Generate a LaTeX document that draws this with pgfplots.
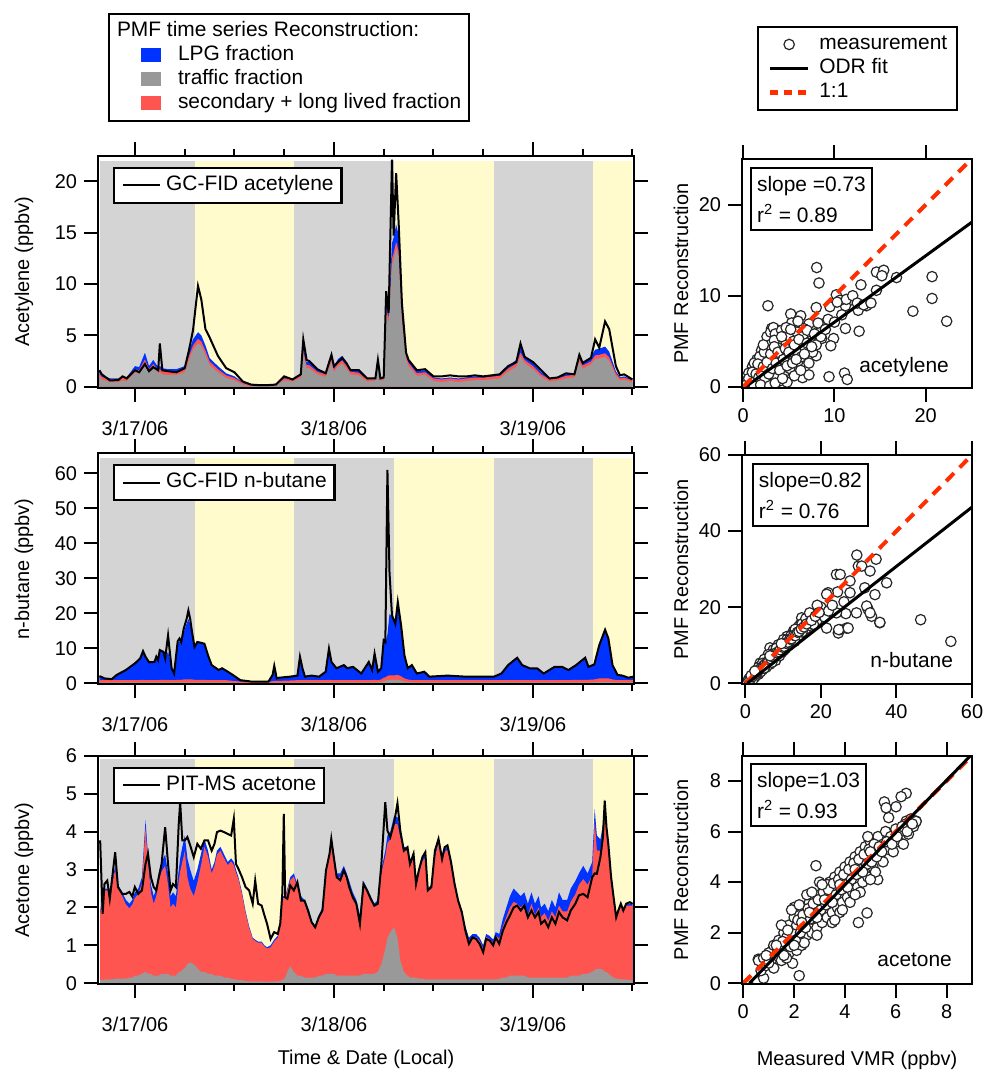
\documentclass[border=0pt]{standalone}
\usepackage{fontspec}
\setmainfont{Liberation Sans}
\usepackage{pgfplots}
\pgfplotsset{compat=1.18}
\usepackage{pgfplotstable}

\definecolor{bggray}{RGB}{212,212,212}
\definecolor{bgyellow}{RGB}{255,251,204}
\definecolor{trgray}{RGB}{153,153,153}
\definecolor{lpgblue}{RGB}{0,51,255}
\definecolor{secred}{RGB}{255,85,80}
\definecolor{oneone}{RGB}{255,45,0}

\newcommand{\lbl}{\fontsize{10.5}{12}\selectfont}
\newcommand{\tkl}{\fontsize{10}{12}\selectfont}

\pgfplotstableread{
t tr sec lpg meas
-4.3 1.05 0.25 0.20 1.6
-4.0 0.70 0.25 0.15 1.2
-3.0 0.45 0.25 0.10 0.6
-2.0 0.45 0.25 0.10 0.65
-1.5 0.62 0.25 0.13 1.0
-1.0 0.53 0.25 0.12 0.8
0.0 1.40 0.30 0.30 1.6
0.5 1.30 0.30 0.30 1.4
1.2 2.30 0.35 0.65 2.2
1.7 1.40 0.30 0.30 1.5
2.2 1.90 0.30 0.40 1.9
2.8 1.30 0.30 0.30 1.6
3.0 1.40 0.30 0.30 4.2
3.3 1.20 0.30 0.30 1.6
4.0 1.15 0.30 0.25 1.5
5.0 1.15 0.30 0.25 1.4
6.0 1.40 0.30 0.30 1.8
6.5 2.60 0.35 0.45 3.5
7.0 3.60 0.40 0.60 5.5
7.6 4.20 0.45 0.65 9.8
8.0 4.00 0.40 0.60 8.5
8.5 3.10 0.40 0.50 5.6
9.0 2.10 0.35 0.35 4.8
10.0 1.40 0.30 0.30 3.0
11.0 0.85 0.25 0.20 1.8
12.0 0.60 0.25 0.15 1.4
13.0 0.20 0.15 0.05 0.5
14.0 0.05 0.08 0.02 0.2
15.0 0.05 0.08 0.02 0.15
16.0 0.05 0.08 0.02 0.15
17.0 0.15 0.12 0.03 0.2
18.0 0.60 0.20 0.10 1.0
19.0 0.50 0.20 0.10 0.7
20.0 0.85 0.20 0.15 1.2
20.3 3.20 0.30 0.50 4.6
20.7 1.80 0.30 0.30 2.6
21.0 1.80 0.30 0.30 2.5
22.0 1.20 0.25 0.25 1.7
23.0 0.95 0.25 0.20 1.3
23.7 2.40 0.30 0.60 3.1
24.0 1.40 0.30 0.30 2.0
24.5 2.00 0.30 0.40 2.4
25.0 2.25 0.30 0.45 2.8
25.5 1.75 0.30 0.35 2.3
26.0 1.20 0.25 0.25 1.6
27.0 1.10 0.25 0.25 1.6
28.0 0.50 0.20 0.10 0.8
29.0 0.60 0.20 0.10 0.8
29.3 2.00 0.30 0.50 2.6
29.6 0.60 0.20 0.10 0.8
30.0 0.60 0.20 0.10 0.9
30.3 7.10 0.50 0.90 9.3
30.6 6.20 0.50 0.80 7.2
31.0 11.90 0.60 1.50 22.1
31.2 12.40 0.60 1.50 14.7
31.5 13.50 0.60 1.70 20.8
31.8 12.60 0.60 1.60 16.0
32.2 6.20 0.50 0.80 8.1
32.7 2.65 0.35 0.40 3.3
33.0 2.00 0.30 0.30 2.6
34.0 1.05 0.25 0.20 1.6
35.0 1.15 0.25 0.20 1.7
36.0 0.55 0.25 0.10 1.0
37.0 0.45 0.25 0.10 1.0
38.0 0.55 0.25 0.10 1.1
39.0 0.45 0.25 0.10 1.0
40.0 0.55 0.25 0.10 1.0
41.0 0.63 0.25 0.12 1.1
42.0 0.63 0.25 0.12 1.0
43.0 0.72 0.25 0.13 1.1
44.0 0.80 0.25 0.15 1.2
45.0 1.45 0.30 0.25 2.0
46.0 1.95 0.30 0.35 2.4
46.5 2.95 0.35 0.50 4.2
47.0 2.30 0.30 0.40 2.9
48.0 1.70 0.30 0.30 2.4
49.0 0.95 0.25 0.20 1.6
50.0 0.50 0.20 0.10 0.8
51.0 0.60 0.20 0.10 0.9
52.0 0.80 0.25 0.15 1.3
53.0 0.90 0.25 0.15 1.2
53.6 2.45 0.30 0.45 3.1
54.0 1.75 0.30 0.35 2.3
55.0 2.15 0.30 0.45 2.8
55.5 2.70 0.35 0.55 4.6
56.0 2.75 0.35 0.60 3.8
56.7 2.90 0.35 0.65 6.35
57.2 2.50 0.35 0.55 5.6
58.0 1.05 0.25 0.20 2.0
58.5 0.60 0.20 0.10 1.1
59.0 0.68 0.20 0.12 1.2
60.0 0.42 0.20 0.08 0.7
}\tabA

\pgfplotstableread{
t tr sec lpg meas
-4.3 0.3 0.6 1.1 2.0
-4.1 0.3 0.6 1.0 1.9
-3.7 0.3 0.6 0.5 1.4
-2.8 0.3 0.6 0.3 1.2
-2.2 0.3 0.6 1.5 2.4
-1.1 0.3 0.6 2.9 3.8
0.0 0.3 0.6 5.0 5.7
0.63 0.3 0.6 6.3 7.1
0.97 0.3 0.7 8.4 9.2
1.27 0.3 0.6 6.9 7.6
1.7 0.3 0.6 5.4 6.0
2.35 0.3 0.6 5.5 6.1
2.57 0.3 0.6 6.9 7.6
2.78 0.3 0.6 5.9 6.6
2.99 0.3 0.7 8.6 9.5
3.43 0.3 0.7 8.0 9.0
3.64 0.3 0.6 6.5 7.1
3.99 0.3 0.7 8.0 13.7
4.16 0.3 0.6 6.6 9.9
4.42 0.3 0.6 3.6 4.3
4.72 0.3 0.6 2.1 2.8
5.15 0.3 0.7 10.5 12.0
5.37 0.3 0.7 11.0 12.8
5.58 0.3 0.7 10.5 11.8
5.88 0.3 0.8 13.4 15.6
6.23 0.3 0.8 15.9 18.4
6.44 0.3 0.8 17.3 20.8
6.66 0.3 0.8 15.9 18.4
6.88 0.3 0.8 12.9 14.7
7.18 0.3 0.7 9.5 10.4
7.52 0.3 0.7 10.8 11.8
7.95 0.3 0.7 10.6 11.6
8.38 0.3 0.7 10.0 11.3
8.81 0.3 0.6 6.9 8.0
9.25 0.3 0.6 4.1 5.2
10.1 0.3 0.6 2.7 3.8
10.5 0.3 0.6 3.2 4.3
11.0 0.3 0.6 2.5 3.6
11.8 0.2 0.5 1.5 2.4
12.7 0.1 0.4 0.4 0.9
14.0 0.1 0.3 0.1 0.5
16.1 0.1 0.3 0.1 0.5
16.6 0.2 0.4 1.8 2.4
16.8 0.2 0.5 4.3 5.0
17.1 0.2 0.5 0.7 1.4
17.4 0.2 0.5 0.9 1.6
18.7 0.2 0.6 1.1 1.9
19.6 0.3 0.6 1.3 2.2
19.9 0.3 0.6 6.7 7.6
20.2 0.3 0.6 3.4 4.3
20.5 0.3 0.6 1.0 1.9
21.3 0.3 0.6 1.3 2.2
22.2 0.3 0.6 1.0 1.9
23.0 0.3 0.6 2.4 3.3
23.4 0.3 0.7 8.9 9.9
23.7 0.3 0.6 5.2 6.1
24.3 0.3 0.6 3.4 4.3
25.2 0.3 0.6 4.5 5.2
25.6 0.3 0.6 3.6 4.3
26.3 0.3 0.6 4.0 4.7
27.3 0.3 0.6 2.0 2.8
28.2 0.3 0.6 5.2 6.1
28.6 0.3 0.6 2.9 3.8
28.9 0.3 0.7 7.5 8.5
29.3 0.3 0.6 2.4 3.3
29.7 0.4 0.7 3.2 4.3
30.0 0.6 1.0 9.9 12.3
30.2 0.7 1.0 9.8 11.8
30.45 0.9 1.2 11.9 61.0
30.7 1.0 1.3 17.5 31.7
31.0 1.0 1.3 16.7 19.4
31.4 1.0 1.3 14.5 17.0
31.7 1.0 1.4 20.1 23.2
32.1 0.8 1.2 14.0 16.5
32.5 0.5 0.9 6.8 8.0
32.9 0.4 0.7 3.5 4.3
33.4 0.3 0.6 4.3 5.2
34.0 0.3 0.6 1.9 2.8
34.9 0.3 0.6 2.4 3.3
35.5 0.3 0.6 1.0 1.9
37.7 0.3 0.6 1.3 2.2
39.9 0.3 0.6 1.0 1.9
42.0 0.3 0.6 1.0 1.9
43.3 0.3 0.6 1.0 1.9
44.2 0.3 0.6 1.9 2.8
45.0 0.3 0.6 4.3 5.2
46.1 0.3 0.6 6.4 7.3
46.7 0.3 0.6 4.3 5.2
47.6 0.3 0.6 3.4 4.3
48.5 0.3 0.6 3.4 4.3
49.3 0.3 0.6 1.9 2.8
50.6 0.3 0.6 3.8 4.7
51.5 0.3 0.6 3.8 4.7
52.3 0.3 0.6 2.9 3.8
53.2 0.3 0.7 4.2 5.2
54.3 0.3 0.7 6.3 7.3
54.7 0.3 0.7 3.7 4.7
55.4 0.3 0.8 4.3 5.4
56.0 0.4 1.0 9.5 10.9
56.7 0.4 1.0 13.6 15.3
57.1 0.4 1.0 11.4 12.8
57.6 0.3 0.8 4.1 5.2
58.2 0.3 0.6 1.5 2.4
58.8 0.3 0.6 1.3 2.2
59.5 0.3 0.6 0.7 1.6
60.1 0.3 0.6 1.0 1.9
}\tabB

\pgfplotstableread{
t tr sec lpg meas
-4.2 0.08 1.77 0.05 3.77
-3.9 0.08 2.17 0.05 1.83
-3.68 0.10 2.35 0.05 2.62
-3.34 0.10 2.35 0.05 2.71
-3.04 0.10 2.25 0.05 2.23
-2.74 0.10 2.52 0.08 2.80
-2.39 0.12 2.88 0.10 3.46
-2.05 0.12 2.38 0.10 2.54
-1.53 0.12 2.18 0.10 2.36
-1.1 0.12 1.96 0.12 2.36
-0.67 0.15 1.83 0.12 2.41
-0.32 0.15 1.93 0.12 2.29
-0.02 0.20 2.05 0.15 2.54
0.41 0.20 2.15 0.15 2.36
0.84 0.25 2.40 0.15 2.45
1.27 0.30 3.80 0.20 3.15
1.57 0.25 2.95 0.20 3.42
1.92 0.25 2.15 0.20 2.80
2.26 0.20 1.90 0.20 2.54
2.57 0.20 2.10 0.20 2.45
2.87 0.20 2.50 0.20 2.80
3.21 0.25 2.70 0.25 3.15
3.64 0.25 2.85 0.30 4.12
3.99 0.25 2.35 0.30 3.15
4.29 0.20 1.80 0.30 2.45
4.59 0.20 1.90 0.30 2.62
4.94 0.20 1.80 0.30 2.54
5.28 0.30 2.40 0.30 4.21
5.45 0.30 2.65 0.35 4.78
5.71 0.35 2.85 0.40 3.77
6.01 0.40 3.10 0.40 3.77
6.32 0.50 2.30 0.50 3.86
6.66 0.55 1.95 0.50 3.64
7.09 0.50 1.80 0.40 3.33
7.52 0.40 2.25 0.35 3.68
7.95 0.30 2.80 0.30 3.55
8.38 0.30 3.30 0.20 3.77
8.81 0.25 3.10 0.15 3.77
9.25 0.25 2.65 0.10 3.50
9.59 0.20 2.90 0.10 3.68
9.89 0.20 3.20 0.10 3.99
10.3 0.20 3.30 0.10 4.03
10.75 0.15 3.15 0.10 3.99
11.2 0.15 2.97 0.08 3.94
11.6 0.12 3.10 0.08 3.90
11.92 0.10 3.02 0.08 4.34
12.18 0.10 2.82 0.08 3.15
12.48 0.08 2.67 0.05 3.02
12.91 0.08 2.27 0.05 2.80
13.34 0.06 1.79 0.05 2.54
13.77 0.05 1.41 0.04 2.45
14.2 0.05 1.12 0.03 2.10
14.5 0.05 1.07 0.03 2.71
14.85 0.05 1.02 0.03 2.10
15.28 0.05 1.02 0.03 2.05
15.62 0.04 0.93 0.03 1.79
15.93 0.04 0.88 0.03 1.57
16.36 0.04 0.91 0.05 1.17
16.79 0.05 1.05 0.05 1.35
17.22 0.05 1.15 0.05 1.30
17.52 0.06 1.49 0.05 1.57
17.78 0.10 2.15 0.05 2.40
17.95 0.10 2.15 0.05 4.47
18.12 0.15 2.10 0.05 2.27
18.38 0.30 2.15 0.05 2.23
18.73 0.45 2.27 0.08 2.58
19.16 0.30 2.52 0.08 2.45
19.59 0.20 2.32 0.08 2.67
20.02 0.20 2.02 0.08 2.18
20.45 0.15 1.97 0.08 2.18
20.88 0.15 1.67 0.08 1.92
21.31 0.15 1.42 0.08 1.61
21.74 0.15 1.27 0.08 1.48
22.17 0.20 1.52 0.08 1.74
22.61 0.20 1.72 0.08 1.92
23.04 0.25 2.65 0.10 2.98
23.47 0.25 3.15 0.10 3.42
23.68 0.25 3.55 0.10 3.81
23.98 0.25 3.05 0.10 3.33
24.33 0.20 2.60 0.10 2.80
24.76 0.20 2.60 0.10 2.72
25.19 0.20 2.80 0.10 2.98
25.54 0.20 2.60 0.10 2.80
25.84 0.20 2.40 0.10 2.54
26.27 0.20 2.10 0.10 2.27
26.7 0.20 1.90 0.10 2.10
27.13 0.20 1.50 0.10 1.57
27.56 0.25 2.35 0.10 2.62
28.0 0.25 2.15 0.10 2.45
28.43 0.25 1.95 0.10 2.23
28.86 0.25 1.75 0.10 2.05
29.29 0.30 1.80 0.10 2.10
29.72 0.50 2.40 0.10 3.15
30.19 0.90 2.45 0.15 4.78
30.45 1.20 2.50 0.20 4.03
30.8 1.35 2.45 0.20 3.86
31.23 1.48 2.72 0.20 4.21
31.66 1.20 3.00 0.20 4.75
32.0 0.60 3.25 0.15 4.03
32.43 0.30 3.20 0.10 3.50
32.87 0.20 3.30 0.10 3.59
33.17 0.15 2.95 0.10 3.15
33.6 0.15 3.15 0.10 3.42
33.9 0.15 2.47 0.08 2.62
34.24 0.12 2.80 0.08 2.98
34.67 0.12 3.10 0.08 3.33
35.02 0.10 3.22 0.08 3.46
35.32 0.10 2.32 0.08 2.45
35.75 0.10 2.42 0.08 2.54
36.18 0.10 3.22 0.08 3.50
36.61 0.10 3.62 0.08 3.81
37.04 0.10 3.12 0.08 3.28
37.35 0.10 3.37 0.08 3.59
37.69 0.10 3.42 0.08 3.64
38.12 0.10 3.02 0.08 3.20
38.55 0.10 2.52 0.08 2.62
38.98 0.10 2.02 0.08 2.18
39.42 0.10 1.72 0.08 1.88
39.85 0.10 1.32 0.08 1.39
40.28 0.10 1.02 0.08 1.04
40.71 0.10 1.12 0.08 1.21
41.14 0.10 1.12 0.08 1.17
41.57 0.10 1.02 0.08 1.04
42.0 0.10 0.82 0.08 0.82
42.35 0.10 1.12 0.08 1.17
42.78 0.10 1.07 0.08 1.13
43.21 0.10 0.97 0.08 1.00
43.51 0.10 1.15 0.10 1.21
43.94 0.12 1.06 0.12 1.04
44.37 0.15 1.35 0.20 1.39
44.8 0.15 1.60 0.25 1.61
45.23 0.20 1.80 0.30 1.79
45.67 0.20 1.95 0.35 2.00
46.1 0.20 1.90 0.30 2.05
46.53 0.20 1.80 0.30 1.92
46.96 0.20 1.90 0.30 2.05
47.39 0.15 1.65 0.30 1.74
47.82 0.15 1.95 0.30 1.92
48.25 0.15 1.65 0.30 1.74
48.68 0.15 1.85 0.30 1.88
48.98 0.15 1.60 0.25 1.57
49.42 0.15 1.70 0.25 1.66
49.85 0.15 1.50 0.25 1.48
50.28 0.15 1.75 0.30 1.74
50.71 0.15 1.60 0.25 1.57
51.14 0.15 1.90 0.35 1.88
51.57 0.15 1.75 0.30 1.74
52.13 0.15 1.75 0.30 1.66
52.56 0.20 1.95 0.35 1.92
53.12 0.20 2.15 0.35 2.10
53.55 0.20 2.40 0.30 2.32
54.07 0.25 2.50 0.35 2.36
54.59 0.25 2.35 0.30 2.27
55.15 0.30 2.55 0.35 2.80
55.45 0.35 3.95 0.30 2.90
55.71 0.38 3.12 0.40 2.89
56.14 0.38 3.12 0.30 3.33
56.44 0.35 3.65 0.20 3.86
56.66 0.30 4.45 0.10 4.82
56.87 0.30 3.80 0.10 4.12
57.09 0.25 3.30 0.05 3.68
57.43 0.20 2.55 0.05 2.80
57.73 0.15 2.10 0.05 2.27
58.04 0.12 1.63 0.05 1.74
58.3 0.12 1.78 0.05 1.92
58.6 0.10 1.95 0.05 2.10
58.9 0.10 1.80 0.05 1.92
59.25 0.10 1.95 0.05 2.10
59.68 0.08 1.97 0.05 2.14
60.02 0.08 1.97 0.05 2.10
}\tabC

\pgfplotsset{
  base/.style={
    scale only axis, axis on top, tick align=outside,
    major tick length=7bp, minor tick length=3.5bp,
    axis line style={line width=1bp},
    every tick/.style={black, line width=1bp},
    tick label style={font=\tkl},
    label style={font=\lbl},
    /pgf/number format/assume math mode=true,
    clip marker paths=true,
  },
  leftp/.style={
    base, width=268bp,
    xmin=-4.46, xmax=60.19,
    xtick={0,24,48}, xticklabels={3/17/06,3/18/06,3/19/06},
    minor xtick={6,12,18,30,36,42,54,60},
    xtick pos=both, ytick pos=both,
    xticklabel style={yshift=-6bp},
    every axis y label/.style={at={([xshift=-37bp]rel axis cs:0,0.5)}, rotate=90, anchor=center},
    legend style={at={(0.028,0.953)}, anchor=north west, draw=black, line width=1.2bp, fill=white,
      inner xsep=4bp, inner ysep=3.25bp, font=\lbl,
      nodes={inner sep=0pt, text height=8bp, text depth=3bp}, column sep=2.5bp},
  },
  rightp/.style={
    base, width=115bp,
    xtick pos=both, ytick pos=left,
    every axis y label/.style={at={([xshift=-30.5bp]rel axis cs:0,0.5)}, rotate=90, anchor=center},
  },
  measleg/.style={legend image code/.code={\draw[black, line width=1bp] (0bp,0bp) -- (18.5bp,0bp);}},
  scat/.style={only marks, mark=*, mark size=2.6bp, mark options={draw=black!85, fill=white, line width=0.6bp}},
  sqleg/.style={legend image code/.code={\path[draw=none, fill=none] (0bp,0bp) -- (22bp,0bp); \fill[#1, draw=none] (12bp,-3.5bp) rectangle (22bp,3.5bp);}},
}

\begin{document}
\begin{tikzpicture}
\useasboundingbox (0,0) rectangle (492.5bp,536.5bp);

% ---------- PMF legend (top left) ----------
\begin{axis}[hide axis, scale only axis, width=10bp, height=10bp,
  at={(54bp,520bp)}, anchor=south west, xmin=0, xmax=1, ymin=0, ymax=1,
  legend cell align=left,
  legend style={at={(0,1)}, anchor=north west, draw=black, line width=1bp, fill=white,
    inner xsep=4bp, inner ysep=3.25bp, font=\lbl,
    nodes={inner sep=0pt, text height=8bp, text depth=3bp}, column sep=8.5bp, row sep=1bp}]
\addlegendimage{empty legend}
\addlegendentry{\hspace*{-30.5bp}PMF time series Reconstruction:}
\addlegendimage{draw=none, legend image code/.code={\path[draw=none] (0bp,0bp) -- (22bp,0bp); \fill[lpgblue] (12bp,-3.5bp) rectangle (22bp,3.5bp);}}
\addlegendentry{LPG fraction}
\addlegendimage{draw=none, legend image code/.code={\path[draw=none] (0bp,0bp) -- (22bp,0bp); \fill[trgray] (12bp,-3.5bp) rectangle (22bp,3.5bp);}}
\addlegendentry{traffic fraction}
\addlegendimage{draw=none, legend image code/.code={\path[draw=none] (0bp,0bp) -- (22bp,0bp); \fill[secred] (12bp,-3.5bp) rectangle (22bp,3.5bp);}}
\addlegendentry{secondary + long lived fraction}
\end{axis}

% ---------- Left panel 1: acetylene ----------
\begin{axis}[leftp, at={(49bp,342.5bp)}, anchor=south west, height=116.2bp,
  ymin=-0.13, ymax=22.5, ytick={0,5,10,15,20}, ylabel={Acetylene (ppbv)}]
\fill[bggray] (axis cs:-4.2,-0.13) rectangle (axis cs:60.0,22.0);
\fill[bgyellow] (axis cs:7.2,-0.13) rectangle (axis cs:19.2,22.0);
\fill[bgyellow] (axis cs:31.3,-0.13) rectangle (axis cs:43.3,22.0);
\fill[bgyellow] (axis cs:55.3,-0.13) rectangle (axis cs:60.0,22.0);
\addplot[forget plot, draw=none, fill=lpgblue] table[x=t, y expr=\thisrow{tr}+\thisrow{sec}+\thisrow{lpg}]{\tabA} \closedcycle;
\addplot[forget plot, draw=none, fill=secred] table[x=t, y expr=\thisrow{tr}+\thisrow{sec}]{\tabA} \closedcycle;
\addplot[forget plot, draw=none, fill=trgray] table[x=t, y=tr]{\tabA} \closedcycle;
\addplot[black, line width=1bp, measleg] table[x=t, y=meas]{\tabA};
\addlegendentry{GC-FID acetylene}
\end{axis}

% ---------- Left panel 2: n-butane ----------
\begin{axis}[leftp, at={(49bp,194.25bp)}, anchor=south west, height=115.75bp,
  ymin=-0.34, ymax=65.8, ytick={0,10,20,30,40,50,60}, ylabel={n-butane (ppbv)}]
\fill[bggray] (axis cs:-4.2,-0.34) rectangle (axis cs:60.0,64.3);
\fill[bgyellow] (axis cs:7.2,-0.34) rectangle (axis cs:19.2,64.3);
\fill[bgyellow] (axis cs:31.3,-0.34) rectangle (axis cs:43.3,64.3);
\fill[bgyellow] (axis cs:55.3,-0.34) rectangle (axis cs:60.0,64.3);
\addplot[forget plot, draw=none, fill=lpgblue] table[x=t, y expr=\thisrow{tr}+\thisrow{sec}+\thisrow{lpg}]{\tabB} \closedcycle;
\addplot[forget plot, draw=none, fill=secred] table[x=t, y expr=\thisrow{tr}+\thisrow{sec}]{\tabB} \closedcycle;
\addplot[forget plot, draw=none, fill=trgray] table[x=t, y=tr]{\tabB} \closedcycle;
\addplot[black, line width=1bp, measleg] table[x=t, y=meas]{\tabB};
\addlegendentry{GC-FID n-butane}
\end{axis}

% ---------- Left panel 3: acetone ----------
\begin{axis}[leftp, at={(49bp,44.5bp)}, anchor=south west, height=114bp,
  ymin=-0.02, ymax=6, ytick={0,1,2,3,4,5,6}, ylabel={Acetone (ppbv)},
  xlabel={Time \& Date (Local)},
  every axis x label/.style={at={([yshift=-40.25bp]rel axis cs:0.5,0)}, anchor=base}]
\fill[bggray] (axis cs:-4.2,-0.02) rectangle (axis cs:60.0,5.93);
\fill[bgyellow] (axis cs:7.2,-0.02) rectangle (axis cs:19.2,5.93);
\fill[bgyellow] (axis cs:31.3,-0.02) rectangle (axis cs:43.3,5.93);
\fill[bgyellow] (axis cs:55.3,-0.02) rectangle (axis cs:60.0,5.93);
\addplot[forget plot, draw=none, fill=lpgblue] table[x=t, y expr=\thisrow{tr}+\thisrow{sec}+\thisrow{lpg}]{\tabC} \closedcycle;
\addplot[forget plot, draw=none, fill=secred] table[x=t, y expr=\thisrow{tr}+\thisrow{sec}]{\tabC} \closedcycle;
\addplot[forget plot, draw=none, fill=trgray] table[x=t, y=tr]{\tabC} \closedcycle;
\addplot[black, line width=1bp, measleg] table[x=t, y=meas]{\tabC};
\addlegendentry{PIT-MS acetone}
\end{axis}

% ---------- Right panel 1: acetylene scatter ----------
\begin{axis}[rightp, at={(371bp,342.5bp)}, anchor=south west, height=114.35bp,
  xmin=-0.14, xmax=25.08, ymin=-0.14, ymax=25, xtick={0,10,20}, ytick={0,10,20},
  ylabel={PMF Reconstruction},
  legend style={at={(0.065,1.583)}, anchor=north west, draw=black, line width=1bp, fill=white,
    inner xsep=5bp, inner ysep=3.25bp, font=\lbl,
    nodes={inner sep=0pt, text height=8bp, text depth=3bp}, column sep=4.5bp, row sep=1bp},
  legend cell align=left]
\addplot[scat, legend image code/.code={\path[draw=none] (0bp,0bp) -- (19bp,0bp); \draw[black!85, fill=white, line width=0.6bp] (9.5bp,0bp) circle[radius=2.6bp];}] coordinates {
(8.05,13.1) (8.3,11.4) (14.6,12.6) (15.4,12.8) (15.2,12.2) (20.7,12.1) (20.7,9.7) (18.6,8.3)
(22.3,7.2) (2.7,8.9) (5.2,8.0) (6.3,7.8) (8.0,8.7) (10.2,10.1) (12.9,11.2) (11.7,9.5)
(11.2,8.9) (12.6,8.4) (13.5,8.9) (14.6,10.6) (16.8,12.0) (11.2,6.4) (12.7,6.1) (9.9,5.3)
(8.0,3.4) (6.5,1.0) (7.2,1.3) (9.4,1.1) (11.1,1.5) (11.4,0.8) (8.6,5.3) (8.4,6.0)
(9.5,8.8) (10.6,9.5) (8.8,6.9) (7.2,6.9) (6.6,6.4) (5.5,5.8) (4.4,6.0) (3.1,6.4) (3.8,6.2)
(0.2,0.3) (0.4,0.2) (0.5,0.6) (0.7,0.4) (0.8,1.0) (1.0,0.5) (1.1,1.3) (1.2,0.8) (1.3,1.8)
(1.5,1.1) (1.6,0.4) (1.7,2.2) (1.8,1.5) (1.9,0.9) (2.0,2.6) (2.1,1.9) (2.2,0.3) (2.3,1.2)
(2.4,3.0) (2.5,2.2) (2.6,1.6) (2.7,0.8) (2.8,3.4) (2.9,2.5) (3.0,1.9) (3.0,0.3) (3.1,4.2)
(3.2,3.0) (3.3,1.3) (3.4,2.4) (3.5,3.7) (3.6,4.9) (3.7,1.8) (3.8,2.9) (3.9,0.6) (4.0,3.4)
(4.1,4.4) (4.2,2.2) (4.3,5.2) (4.4,1.4) (4.5,3.9) (4.6,2.8) (4.7,4.8) (4.8,0.5) (4.9,3.3)
(5.0,5.6) (5.1,2.0) (5.2,4.3) (5.4,3.6) (5.5,5.0) (5.6,1.2) (5.8,4.0) (5.9,6.0) (6.0,2.8)
(6.2,4.8) (6.4,3.3) (6.5,5.5) (6.8,4.2) (7.0,6.2) (7.2,2.6) (7.4,5.0) (7.6,3.8) (7.8,5.8)
(8.0,4.6) (8.2,7.0) (8.5,5.5) (9.0,6.3) (9.3,7.4) (9.6,4.5) (10.0,7.1) (10.3,9.3) (10.8,7.9)
(11.3,9.6) (12.0,10.0) (12.5,9.2) (13.2,9.0) (14.0,9.2) (2.6,5.5) (3.0,6.0) (3.3,6.5)
(3.5,5.8) (4.2,6.2) (5.3,7.0) (6.0,7.2) (4.7,6.5) (2.0,4.0) (1.5,3.0) (1.0,2.2) (0.6,1.5)
(1.2,2.6) (1.8,3.3) (2.3,3.8) (2.9,4.6) (3.4,5.1) (2.2,4.6) (1.4,0.2) (2.5,0.6) (3.6,1.0)
(0.3,0.6) (0.5,0.1) (0.6,0.9) (0.9,0.2) (1.0,1.6) (1.3,0.6) (1.4,1.4) (1.6,2.5) (1.7,1.0)
(2.0,1.4) (2.2,2.2) (2.4,0.9) (2.6,2.7) (2.8,1.4) (3.0,3.6) (3.2,2.0) (3.4,4.4) (3.6,2.6)
(3.8,3.8) (4.0,1.8) (4.2,5.5) (4.4,3.0) (4.6,4.2) (4.8,2.3) (5.0,3.8) (5.2,6.3) (5.4,2.6)
(5.6,4.6) (5.8,3.0) (6.1,5.2) (6.3,1.8) (6.7,3.6) (7.0,4.8) (7.5,4.4) (1.1,0.1) (1.9,0.2)
(2.9,0.1) (3.5,0.4) (4.3,0.9) (0.1,0.1)
};
\addlegendentry{measurement}
\addplot[black, line width=1.5bp, legend image code/.code={\draw[black, line width=1.5bp] (0bp,0bp) -- (19bp,0bp);}] coordinates {(0.27,0) (25.08,18.1)};
\addlegendentry{ODR fit}
\addplot[oneone, line width=2bp, dash pattern=on 5.5bp off 4bp, legend image code/.code={\draw[oneone, line width=2.2bp, dash pattern=on 4bp off 3bp] (0bp,0bp) -- (19bp,0bp);}] coordinates {(0,0) (25.08,25.08)};
\addlegendentry{1:1}
\node[draw=black, line width=1bp, fill=white, align=left, anchor=north west, inner xsep=3bp, inner ysep=4bp, font=\fontsize{10.5}{15.5}\selectfont] at (rel axis cs:0.035,0.966) {slope =0.73\\r\textsuperscript{2} = 0.89};
\node[anchor=base east, font=\lbl] at (rel axis cs:0.93,0.066) {acetylene};
\end{axis}

% ---------- Right panel 2: n-butane scatter ----------
\begin{axis}[rightp, at={(371bp,194.5bp)}, anchor=south west, height=114.5bp,
  xmin=-0.9, xmax=60, ymin=-0.2, ymax=60, xtick={0,20,40,60}, ytick={0,20,40,60},
  ylabel={PMF Reconstruction}]
\addplot[scat] coordinates {
(46.4,16.7) (54.4,11.0) (37.4,26.4) (35.6,15.9) (33.4,17.6) (32.5,19.4) (32.1,20.3) (33.0,18.5)
(34.3,23.3) (31.6,25.1) (29.4,18.5) (26.8,14.5) (24.6,13.2) (25.0,14.1) (21.5,14.5) (24.1,28.6)
(24.4,24.0) (21.9,23.8) (26.6,18.3) (24.1,18.5) (29.9,30.8) (27.7,23.8) (26.1,21.4) (19.7,19.4)
(18.9,16.3) (14.9,17.2) (12.7,13.7) (16.2,15.9) (14.5,15.4) (17.5,15.0) (13.6,12.3) (11.0,12.3)
(10.1,11.5) (8.7,10.1) (6.5,9.3) (7.4,8.8) (5.6,6.2) (3.9,5.3) (3.0,3.5) (2.6,2.2) (1.7,1.3) (0.8,0.4)
(29.5,33.7) (34.6,32.6) (30.8,30.8) (33.0,29.5) (25.1,28.6) (27.7,26.9) (21.5,23.4) (24.7,14.1)
(27.2,14.5) (35.6,16.0)
(0.5,0.3) (1.0,1.2) (1.5,0.8) (2.0,2.1) (2.5,1.6) (3.0,3.2) (3.5,2.4) (4.0,4.5) (4.5,3.5)
(5.0,5.4) (5.5,4.2) (6.0,6.3) (6.5,5.0) (7.0,7.6) (7.5,6.2) (8.0,8.4) (8.5,7.0) (9.0,9.5)
(9.5,8.0) (10.0,10.3) (10.5,9.0) (11.0,11.5) (11.5,10.0) (12.0,12.4) (12.5,11.0) (13.0,13.6)
(13.5,12.0) (14.0,14.8) (14.5,13.0) (15.0,15.6) (16.0,14.3) (16.5,16.8) (17.0,15.2) (18.0,17.5)
(19.0,16.6) (20.0,18.8) (21.0,17.4) (6.0,7.5) (8.0,6.0) (10.0,8.5) (12.0,10.8) (14.0,12.5)
(3.0,2.2) (4.0,3.0) (5.0,6.3) (7.0,5.5) (9.0,7.2) (11.0,9.8) (13.0,11.0) (15.0,13.5)
(2.0,1.0) (1.0,0.5) (3.5,4.2) (16.0,17.0) (18.0,15.5) (20.0,20.0) (22.0,19.0) (23.0,20.5)
(19.0,20.5) (17.0,18.5) (4.5,5.2) (6.8,6.6) (9.2,9.6) (11.8,11.2) (13.2,14.2) (8.2,9.2)
(0.3,0.2) (0.8,0.9) (1.2,1.0) (1.8,1.7) (2.2,2.6) (2.8,2.5) (3.2,3.0) (3.8,3.6) (4.2,4.1)
(4.8,4.6) (5.2,5.0) (5.8,5.6) (6.2,5.9) (6.8,6.4) (7.2,7.0) (7.8,7.4) (8.2,8.0) (8.8,8.3)
(9.2,8.8) (9.8,9.5) (10.2,9.7) (10.8,10.5) (11.2,10.8) (11.8,11.6) (12.2,11.7) (12.8,12.6)
(13.2,12.5) (13.8,13.4) (14.2,13.6) (14.8,14.3) (15.5,14.8) (16.2,15.6) (17.5,16.5) (18.5,17.6)
(19.5,18.6) (1.5,2.0) (2.5,3.2) (5.0,4.0) (6.5,7.2) (9.5,10.4)
};
\addplot[oneone, line width=2bp, dash pattern=on 5.5bp off 4bp] coordinates {(0,0) (60,60)};
\addplot[black, line width=1.5bp] coordinates {(0.5,0) (60,46.3)};
\node[draw=black, line width=1bp, fill=white, align=left, anchor=north west, inner xsep=3bp, inner ysep=4bp, font=\fontsize{10.5}{15.5}\selectfont] at (rel axis cs:0.043,0.965) {slope=0.82\\r\textsuperscript{2} = 0.76};
\node[anchor=base east, font=\lbl] at (rel axis cs:0.948,0.074) {n-butane};
\end{axis}

% ---------- Right panel 3: acetone scatter ----------
\begin{axis}[rightp, at={(371bp,44.5bp)}, anchor=south west, height=114.15bp,
  xmin=-0.05, xmax=9, ymin=-0.03, ymax=9, xtick={0,2,4,6,8}, ytick={0,2,4,6,8},
  ylabel={PMF Reconstruction}, xlabel={Measured VMR (ppbv)},
  every axis x label/.style={at={([yshift=-40.5bp]rel axis cs:0.5,0)}, anchor=base}]
\addplot[scat] coordinates {
(6.41,7.51) (6.21,7.38) (5.55,7.17) (5.62,6.94) (6.01,6.98) (5.72,6.55) (6.41,6.41) (6.8,6.41)
(2.86,4.65) (4.87,2.78) (4.53,2.40) (2.2,0.3) (0.56,0.06) (0.8,0.2) (0.59,0.95) (1.15,1.32)
(1.94,0.79) (5.29,4.1)
(0.6,0.9) (0.7,0.5) (0.8,1.0) (0.9,0.7) (1.0,1.2) (1.1,0.9) (1.2,1.5) (1.2,0.6) (1.3,1.1)
(1.4,1.7) (1.4,1.3) (1.5,0.9) (1.6,2.0) (1.6,1.4) (1.7,1.8) (1.8,1.2) (1.8,2.3) (1.9,1.6)
(2.0,2.0) (2.0,2.6) (2.1,1.3) (2.1,2.3) (2.2,1.8) (2.2,2.8) (2.3,2.1) (2.3,1.5) (2.4,2.5)
(2.4,3.0) (2.5,1.9) (2.5,2.7) (2.6,2.3) (2.6,3.2) (2.7,2.0) (2.7,2.9) (2.8,2.5) (2.8,3.4)
(2.9,2.2) (2.9,3.0) (3.0,2.7) (3.0,3.5) (3.1,2.4) (3.1,3.2) (3.2,2.9) (3.2,3.8) (3.3,2.6)
(3.3,3.4) (3.4,3.1) (3.4,4.0) (3.5,2.8) (3.5,3.6) (3.6,3.3) (3.6,4.2) (3.7,3.0) (3.7,3.8)
(3.8,3.5) (3.8,4.4) (3.9,3.2) (3.9,4.0) (4.0,3.7) (4.0,4.6) (4.1,3.4) (4.1,4.2) (4.2,3.9)
(4.2,4.8) (4.3,3.6) (4.3,4.4) (4.4,4.1) (4.4,5.0) (4.5,3.8) (4.5,4.6) (4.6,4.3) (4.6,5.2)
(4.7,4.0) (4.7,4.8) (4.8,4.5) (4.8,5.4) (4.9,4.2) (5.0,5.0) (5.0,5.6) (5.1,4.6) (5.2,5.3)
(5.2,4.4) (5.3,5.8) (5.4,5.1) (5.5,5.5) (5.5,4.8) (5.6,6.0) (5.7,5.3) (5.8,5.8) (5.9,5.2)
(6.0,6.1) (6.1,5.6) (6.2,6.0) (6.3,5.5) (6.4,6.3) (6.5,5.9) (6.6,6.5) (6.7,6.2) (6.8,6.4)
(2.5,3.5) (3.0,4.0) (2.0,3.0) (1.5,2.3) (3.8,2.8) (4.2,3.2) (3.5,2.4) (2.9,1.9) (1.9,2.9)
(4.6,3.6) (5.0,4.1) (3.3,3.9) (2.4,1.6) (1.7,1.0) (4.9,5.8) (3.6,2.5)
(1.55,1.65) (1.75,2.1) (1.85,1.45) (2.05,1.7) (2.15,2.5) (2.25,2.0) (2.35,2.7) (2.45,2.2)
(2.55,2.95) (2.65,2.55) (2.75,3.15) (2.85,2.75) (2.95,3.3) (3.05,2.9) (3.15,3.6) (3.25,3.1)
(3.35,3.7) (3.45,3.3) (3.55,3.95) (3.65,3.5) (3.75,4.1) (3.85,3.7) (3.95,4.3) (4.05,3.9)
(4.15,4.5) (4.25,4.1) (4.35,4.75) (4.45,4.3) (4.55,4.9) (4.65,4.5) (4.75,5.1) (4.85,4.7)
(4.95,5.3) (5.05,4.8) (5.15,5.5) (5.25,5.0) (5.35,5.4) (5.45,5.2) (5.65,5.6) (5.85,5.5)
(6.05,5.8) (6.25,6.2) (6.45,6.0) (6.65,6.3) (2.3,2.4) (2.6,2.8) (2.9,2.6) (3.2,3.3) (3.5,3.2)
(3.8,3.9) (4.1,3.8) (4.4,4.5) (4.7,4.4) (5.0,5.2) (1.3,1.5) (1.0,0.8) (0.9,1.1) (1.6,1.1)
(2.0,1.5) (3.9,2.9) (4.4,3.5) (3.1,3.9) (2.7,3.6) (2.2,3.1)
};
\addplot[oneone, line width=2bp, dash pattern=on 5.5bp off 4bp] coordinates {(0,0) (9,9)};
\addplot[black, line width=1.5bp] coordinates {(0.24,0) (9,9.06)};
\node[draw=black, line width=1bp, fill=white, align=left, anchor=north west, inner xsep=3bp, inner ysep=4bp, font=\fontsize{10.5}{15.5}\selectfont] at (rel axis cs:0.035,0.968) {slope=1.03\\r\textsuperscript{2} = 0.93};
\node[anchor=base east, font=\lbl] at (rel axis cs:0.943,0.076) {acetone};
\end{axis}
\end{tikzpicture}
\end{document}
